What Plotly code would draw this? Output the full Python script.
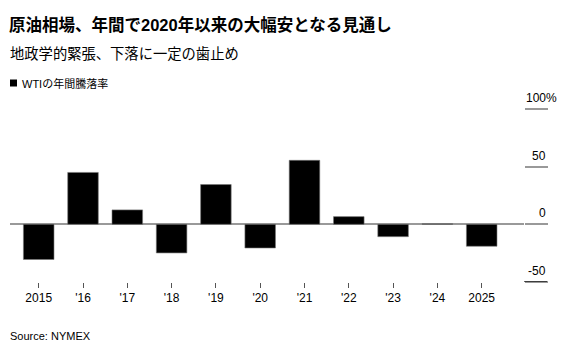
import plotly.graph_objects as go

years = [2015, 2016, 2017, 2018, 2019, 2020, 2021, 2022, 2023, 2024, 2025]
tick_labels = ["2015", "'16", "'17", "'18", "'19", "'20", "'21", "'22", "'23", "'24", "2025"]
change_pct = [-30.5, 45.0, 12.5, -24.8, 34.5, -20.5, 55.5, 6.7, -10.7, 0.5, -19.0]
y_ticks = [-50, 0, 50, 100]
y_tick_text = ["-50", "0", "50", "100%"]

title = "原油相場、年間で2020年以来の大幅安となる見通し"
subtitle = "地政学的緊張、下落に一定の歯止め"
legend_text = "WTIの年間騰落率"
source = "Source: NYMEX"

FONT = "Liberation Sans, Arial, Noto Sans CJK JP, sans-serif"
W, H = 587, 354
ML, MR, MT, MB = 10, 63, 109, 72
PW = W - ML - MR
PH = H - MT - MB

def px_to_paper_x(px):
    return (px - ML) / PW

def px_to_paper_y(py):
    return 1 - (py - MT) / PH

fig = go.Figure()
fig.add_trace(go.Bar(
    x=years, y=change_pct, width=0.69,
    marker=dict(color="#000000", line=dict(color="#777777", width=0.6)),
    showlegend=False, hoverinfo="x+y",
))

annotations = [
    dict(text="<b>" + title + "</b>", xref="paper", yref="paper",
         x=px_to_paper_x(7), y=px_to_paper_y(24), xanchor="left", yanchor="middle",
         showarrow=False, font=dict(size=16.5, color="#000000", family=FONT)),
    dict(text=subtitle, xref="paper", yref="paper",
         x=px_to_paper_x(8), y=px_to_paper_y(54), xanchor="left", yanchor="middle",
         showarrow=False, font=dict(size=14.3, color="#000000", family=FONT)),
    dict(text=legend_text, xref="paper", yref="paper",
         x=px_to_paper_x(20), y=px_to_paper_y(83), xanchor="left", yanchor="middle",
         showarrow=False, font=dict(size=11, color="#000000", family=FONT)),
    dict(text=source, xref="paper", yref="paper",
         x=px_to_paper_x(8), y=px_to_paper_y(335.5), xanchor="left", yanchor="middle",
         showarrow=False, font=dict(size=11, color="#000000", family=FONT)),
]
for v, t in zip(y_ticks, y_tick_text):
    if t.endswith("%"):
        annotations.append(dict(text=t, xref="paper", yref="y", x=px_to_paper_x(524), y=v,
                                xanchor="left", yanchor="bottom", yshift=2, showarrow=False,
                                font=dict(size=12, color="#000000", family=FONT)))
    else:
        annotations.append(dict(text=t, xref="paper", yref="y", x=px_to_paper_x(548), y=v,
                                xanchor="right", yanchor="bottom", yshift=2, showarrow=False,
                                font=dict(size=12, color="#000000", family=FONT)))

shapes = [
    dict(type="line", xref="paper", yref="y", x0=1.0, x1=px_to_paper_x(547),
         y0=-50, y1=-50, line=dict(color="#000000", width=1.2)),
    dict(type="rect", xref="paper", yref="paper",
         x0=px_to_paper_x(10), x1=px_to_paper_x(17),
         y0=px_to_paper_y(86.5), y1=px_to_paper_y(79.5),
         fillcolor="#000000", line=dict(width=0)),
]

fig.update_layout(
    width=W, height=H,
    margin=dict(l=ML, r=MR, t=MT, b=MB),
    paper_bgcolor="#ffffff", plot_bgcolor="#ffffff",
    font=dict(family=FONT, size=12, color="#000000"),
    bargap=0.31,
    annotations=annotations,
    shapes=shapes,
    xaxis=dict(
        range=[2014.352, 2025.955],
        tickvals=years, ticktext=tick_labels,
        ticks="outside", ticklen=5, tickwidth=1, tickcolor="#555555",
        showgrid=False, zeroline=False, showline=False,
        tickfont=dict(size=12, color="#000000", family=FONT),
        fixedrange=True,
    ),
    yaxis=dict(
        range=[-50, 100], side="right",
        tickvals=y_ticks, showticklabels=False,
        ticks="outside", ticklen=23, tickwidth=1.5, tickcolor="#999999",
        showgrid=False, showline=False,
        zeroline=True, zerolinecolor="#999999", zerolinewidth=1.5,
        fixedrange=True,
    ),
)

fig.write_html("out.html")
